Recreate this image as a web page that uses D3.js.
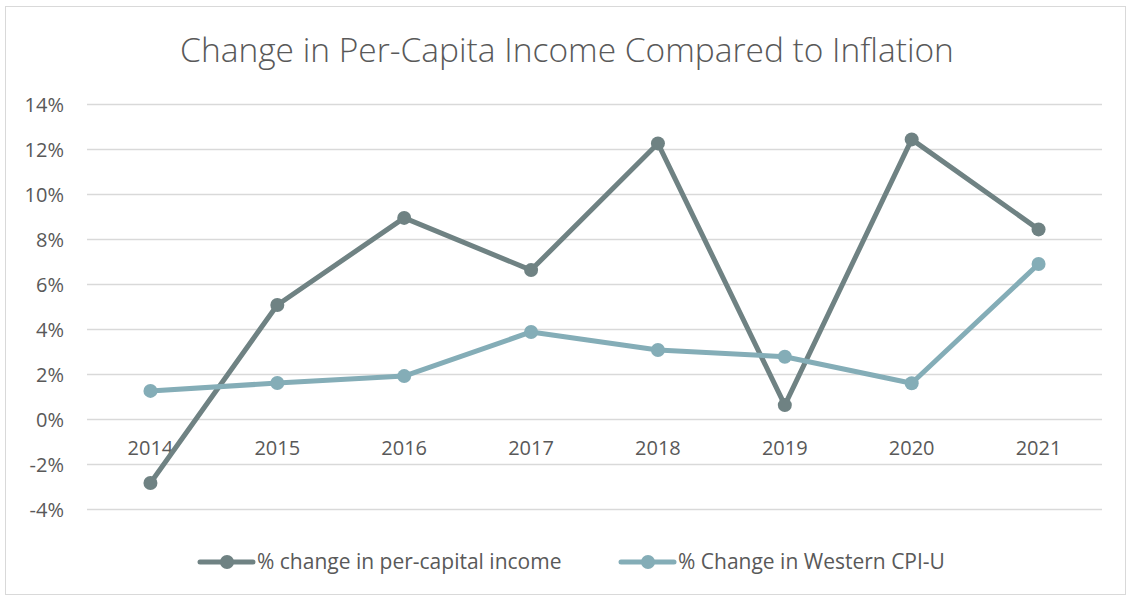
<!DOCTYPE html>
<html>
<head>
<meta charset="utf-8">
<script src="https://cdn.jsdelivr.net/npm/d3@7"></script>
<style>
  html, body { margin: 0; padding: 0; background: #fff; }
  svg text { font-family: "Open Sans", "Noto Sans", sans-serif; fill: #595959; }
</style>
</head>
<body>
<svg id="chart" width="1131" height="598"></svg>
<script>
const years = ["2014", "2015", "2016", "2017", "2018", "2019", "2020", "2021"];
const incomeChange = [-2.82, 5.09, 8.96, 6.64, 12.27, 0.64, 12.45, 8.45];
const cpiChange = [1.27, 1.62, 1.93, 3.89, 3.09, 2.79, 1.61, 6.91];
const yTicks = [-4, -2, 0, 2, 4, 6, 8, 10, 12, 14];
const seriesNames = ["% change in per-capital income", "% Change in Western CPI-U"];
const seriesColors = ["#6f8283", "#84adb7"];

const svg = d3.select("#chart");
const W = 1131, H = 598;

// chart frame
svg.append("rect")
  .attr("x", 5.5).attr("y", 6.5)
  .attr("width", W - 11).attr("height", H - 10)
  .attr("fill", "#fff").attr("stroke", "#d9d9d9").attr("stroke-width", 1);

svg.append("text")
  .attr("x", 567).attr("y", 62)
  .attr("text-anchor", "middle")
  .style("font-size", "33.5px")
  .style("font-weight", 300)
  .text("Change in Per-Capita Income Compared to Inflation");

const plot = { left: 87, right: 1102, top: 104.5, bottom: 509.5 };

const x = d3.scaleBand().domain(years).range([plot.left, plot.right]);
const y = d3.scaleLinear().domain([-4, 14]).range([plot.bottom, plot.top]);

// horizontal gridlines
svg.append("g").selectAll("line").data(yTicks).join("line")
  .attr("x1", plot.left).attr("x2", plot.right)
  .attr("y1", d => y(d)).attr("y2", d => y(d))
  .attr("stroke", "#d9d9d9").attr("stroke-width", 1.3);

// y axis labels
const yAxis = d3.axisLeft(y).tickValues(yTicks).tickFormat(d => d + "%").tickSize(0).tickPadding(0);
const gy = svg.append("g").attr("transform", "translate(64,0)").call(yAxis);
gy.select(".domain").remove();
gy.selectAll("text").style("font-size", "20px").style("font-family", "'Open Sans', 'Noto Sans', sans-serif").attr("fill", "#595959").attr("dy", "0.35em");

// category labels sit just below the zero line
const xAxis = d3.axisBottom(x).tickSize(0).tickPadding(0);
const gx = svg.append("g").attr("transform", `translate(0,${y(0) + 21})`).call(xAxis);
gx.select(".domain").remove();
gx.selectAll("text").style("font-size", "20px").style("font-family", "'Open Sans', 'Noto Sans', sans-serif").attr("fill", "#595959");

const cx = d => x(d) + x.bandwidth() / 2;
const line = d3.line().x(d => cx(d.year)).y(d => y(d.value));

[incomeChange, cpiChange].forEach((vals, i) => {
  const pts = years.map((yr, j) => ({ year: yr, value: vals[j] }));
  const g = svg.append("g");
  g.append("path").datum(pts)
    .attr("d", line)
    .attr("fill", "none")
    .attr("stroke", seriesColors[i])
    .attr("stroke-width", 5)
    .attr("stroke-linejoin", "round")
    .attr("stroke-linecap", "round");
  g.selectAll("circle").data(pts).join("circle")
    .attr("cx", d => cx(d.year)).attr("cy", d => y(d.value))
    .attr("r", 7).attr("fill", seriesColors[i]);
});

// legend
const legendX = [198, 619];
seriesNames.forEach((name, i) => {
  const g = svg.append("g").attr("transform", `translate(${legendX[i]},562)`);
  g.append("line").attr("x1", 2).attr("x2", 55).attr("y1", 0).attr("y2", 0)
    .attr("stroke", seriesColors[i]).attr("stroke-width", 5).attr("stroke-linecap", "round");
  g.append("circle").attr("cx", 29).attr("cy", 0).attr("r", 7).attr("fill", seriesColors[i]);
  g.append("text").attr("x", 59).attr("y", 0).attr("dy", "0.35em")
    .style("font-size", "21px").text(name);
});
</script>
</body>
</html>
